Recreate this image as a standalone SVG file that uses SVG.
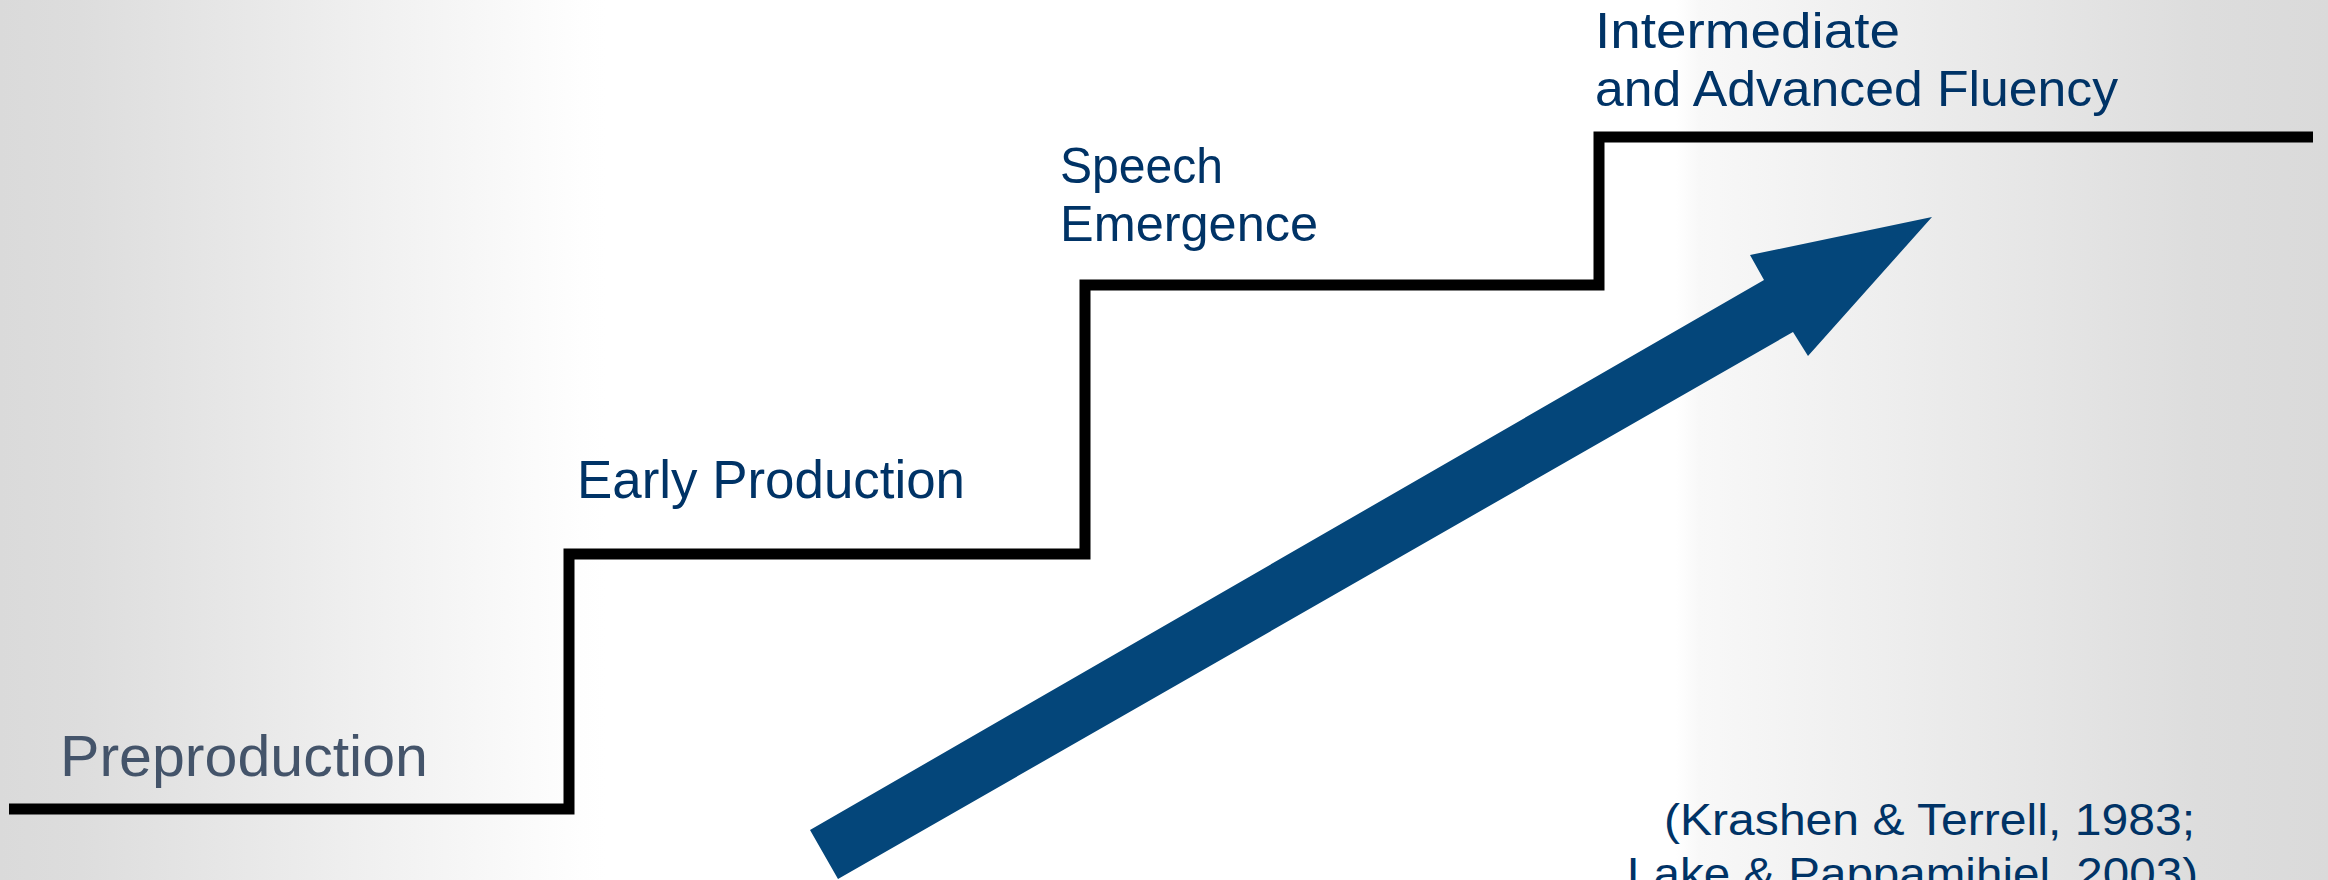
<svg xmlns="http://www.w3.org/2000/svg" width="2328" height="880" viewBox="0 0 2328 880">
  <defs>
    <linearGradient id="bg" x1="0" y1="0" x2="2328" y2="0" gradientUnits="userSpaceOnUse">
      <stop offset="0" stop-color="#dadada"/>
      <stop offset="0.035" stop-color="#dddddd"/>
      <stop offset="0.25" stop-color="#fefefe"/>
      <stop offset="0.26" stop-color="#ffffff"/>
      <stop offset="0.72" stop-color="#ffffff"/>
      <stop offset="0.73" stop-color="#f8f8f8"/>
      <stop offset="0.944" stop-color="#dddddd"/>
      <stop offset="1" stop-color="#dadada"/>
    </linearGradient>
  </defs>
  <style>
    .lbl { font-family: "Liberation Sans", Arial, sans-serif; fill: #003366; }
    .pre { font-family: "Liberation Sans", Arial, sans-serif; fill: #44546A; }
    .stair { fill: none; stroke: #000000; stroke-width: 11; stroke-linejoin: miter; stroke-linecap: butt; }
    .arrow { fill: #04467A; }
  </style>
  <rect x="0" y="0" width="2328" height="880" fill="url(#bg)"/>

  <g id="connectors">
    <polyline class="stair" points="9,809 569,809 569,554 1085,554 1085,285 1599,285 1599,137 2313,137"/>
    <polygon class="arrow" points="810,830 1764,280 1750,255 1932,217 1808,356 1793,332 838,879"/>
  </g>

  <g id="node-preproduction">
    <text class="pre" x="60" y="776" font-size="57" textLength="368" lengthAdjust="spacingAndGlyphs">Preproduction</text>
  </g>
  <g id="node-early-production">
    <text class="lbl" x="577" y="498" font-size="53" textLength="388" lengthAdjust="spacingAndGlyphs">Early Production</text>
  </g>
  <g id="node-speech-emergence">
    <text class="lbl" x="1060" y="183" font-size="50" textLength="163" lengthAdjust="spacingAndGlyphs">Speech</text>
    <text class="lbl" x="1060" y="241" font-size="50" textLength="258" lengthAdjust="spacingAndGlyphs">Emergence</text>
  </g>
  <g id="node-intermediate-advanced">
    <text class="lbl" x="1595" y="48" font-size="50" textLength="305" lengthAdjust="spacingAndGlyphs">Intermediate</text>
    <text class="lbl" x="1595" y="106" font-size="50" textLength="523" lengthAdjust="spacingAndGlyphs">and Advanced Fluency</text>
  </g>
  <g id="citation">
    <text class="lbl" x="1664" y="835" font-size="45" textLength="531" lengthAdjust="spacingAndGlyphs">(Krashen &amp; Terrell, 1983;</text>
    <text class="lbl" x="1627" y="889" font-size="45" textLength="571" lengthAdjust="spacingAndGlyphs">Lake &amp; Pappamihiel, 2003)</text>
  </g>
</svg>
